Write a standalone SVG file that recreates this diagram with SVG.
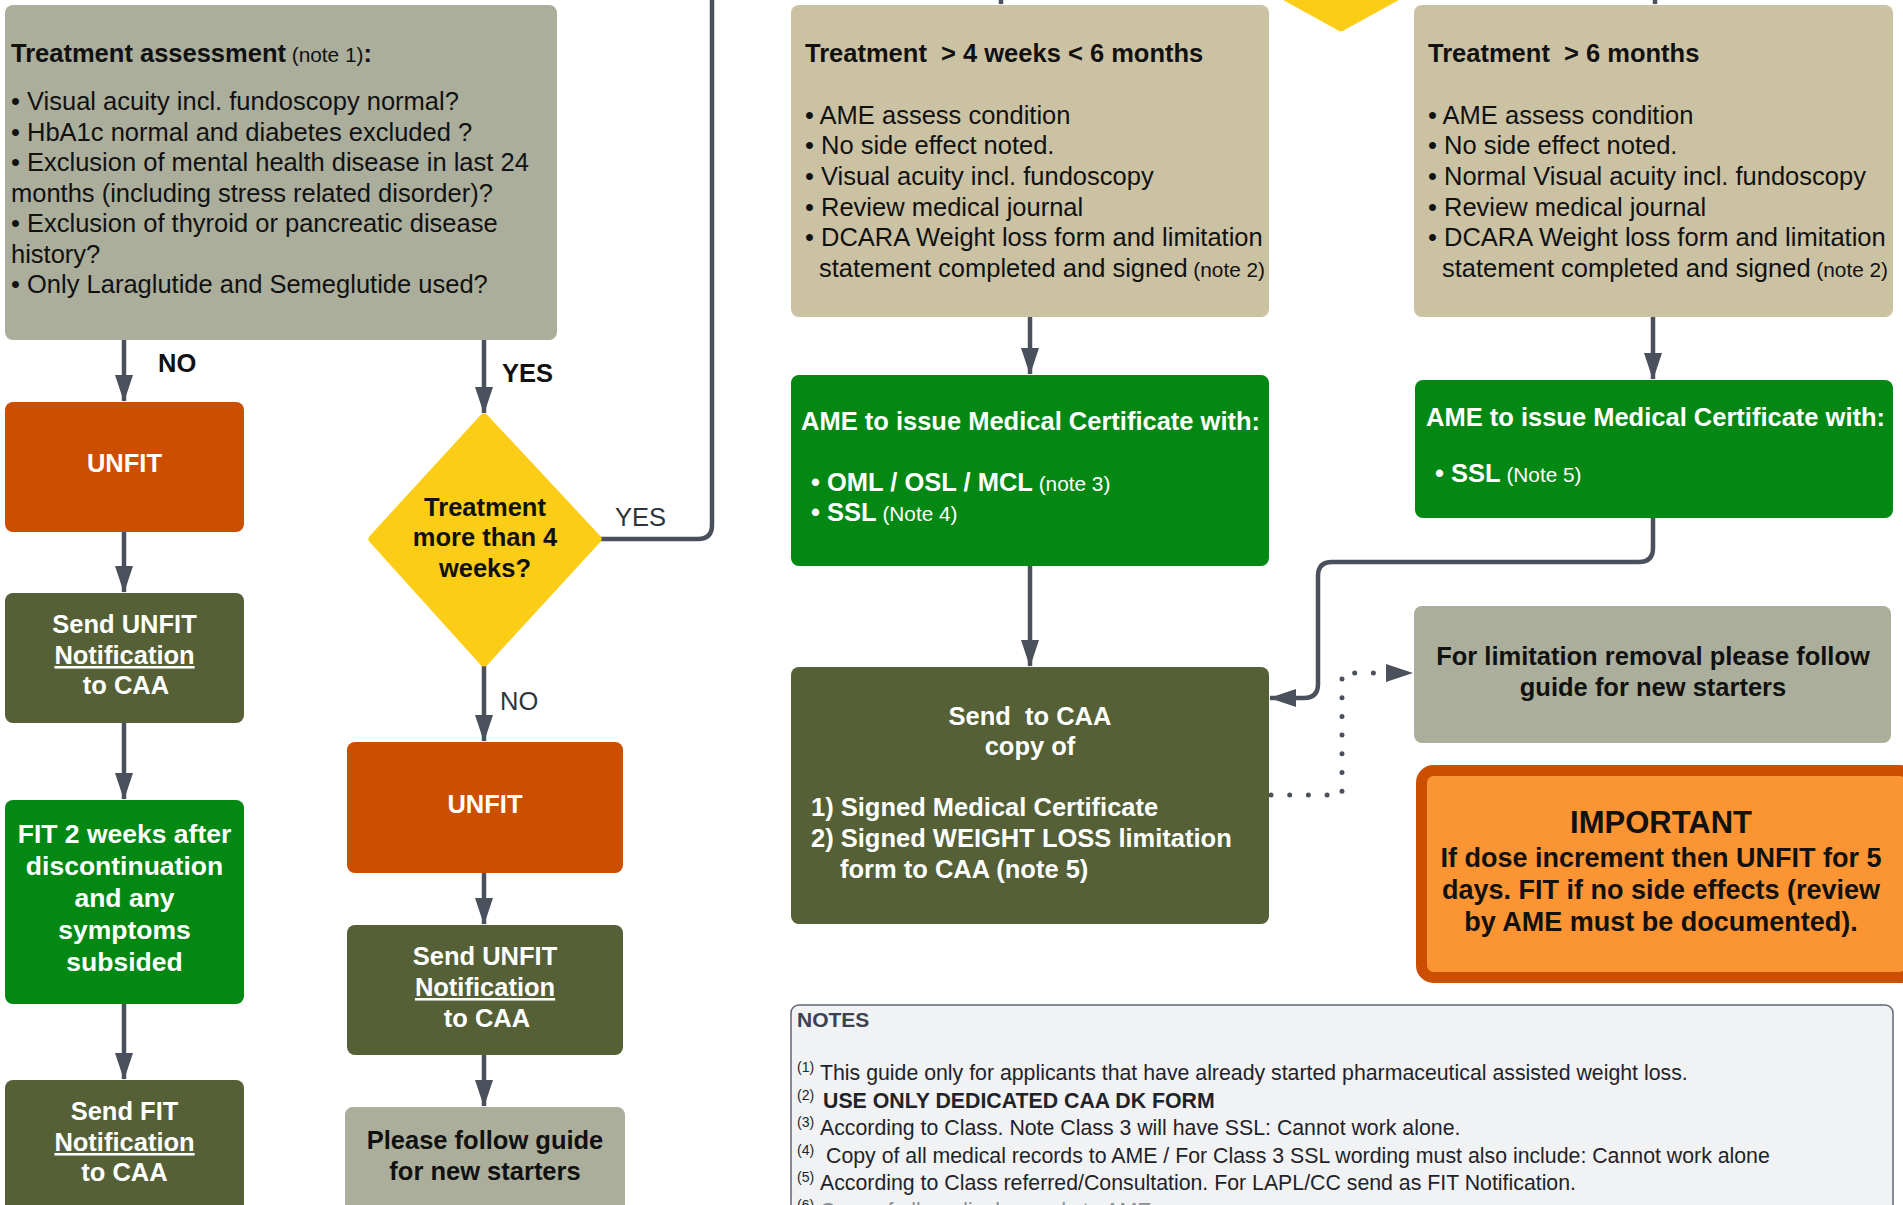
<svg xmlns="http://www.w3.org/2000/svg" width="1903" height="1205" viewBox="0 0 1903 1205">
<defs>
<marker id="ah" markerUnits="userSpaceOnUse" markerWidth="27" markerHeight="18" refX="26" refY="9" orient="auto"><path d="M0,0 L27,9 L0,18 z" fill="#4b515c"/></marker>
<style>
text{font-family:"Liberation Sans",Arial,sans-serif}
.b{font-weight:bold;font-size:25.5px}
.r{font-size:25.5px}
.s{font-size:20.8px;font-weight:normal}
.w{fill:#fff}
.k{fill:#111}
.c{text-anchor:middle}
.u{text-decoration:underline}
.gray{fill:#abae9b}
.tan{fill:#cbc2a3}
.olive{fill:#556036}
.green{fill:#038814}
.red{fill:#cc4e00}
.con{fill:none;stroke:#4b515c;stroke-width:4.5}
.arr{marker-end:url(#ah)}
.dot{fill:none;stroke:#4b515c;stroke-width:5;stroke-linecap:round;stroke-dasharray:0 18.7}
.n{font-size:21.3px;fill:#1f2329}
.sup{font-size:14px;fill:#1f2329}
.lbl{font-size:25.5px;fill:#111}
</style>
</defs>
<rect width="1903" height="1205" fill="#fff"/>

<g id="connectors">
<line class="con arr" x1="124" y1="340" x2="124" y2="401"/>
<line class="con arr" x1="484" y1="340" x2="484" y2="413"/>
<path class="con" d="M600,539 H698 Q712,539 712,525 V-10"/>
<line class="con arr" x1="124" y1="532" x2="124" y2="592"/>
<line class="con arr" x1="124" y1="723" x2="124" y2="799"/>
<line class="con arr" x1="124" y1="1004" x2="124" y2="1079"/>
<line class="con arr" x1="484" y1="665" x2="484" y2="741"/>
<line class="con arr" x1="484" y1="873" x2="484" y2="924"/>
<line class="con arr" x1="484" y1="1055" x2="484" y2="1106"/>
<line class="con arr" x1="1030" y1="317" x2="1030" y2="374"/>
<line class="con arr" x1="1030" y1="566" x2="1030" y2="666"/>
<line class="con arr" x1="1653" y1="317" x2="1653" y2="379"/>
<path class="con arr" d="M1653,518 V548 Q1653,562 1639,562 H1332 Q1318,562 1318,576 V684 Q1318,698 1304,698 H1270"/>
<path class="dot" d="M1271,795 H1342 V673 H1395"/>
<path d="M1386,664 L1413,673 L1386,682 z" fill="#4b515c"/>
<line class="con arr" x1="1001" y1="-40" x2="1001" y2="4"/>
<line class="con arr" x1="1655" y1="-40" x2="1655" y2="4"/>
</g>

<g id="edge-labels">
<text x="158" y="372" class="lbl" font-weight="bold">NO</text>
<text x="502" y="382" class="lbl" font-weight="bold">YES</text>
<text x="615" y="526" class="lbl" style="fill:#2f343c">YES</text>
<text x="500" y="710" class="lbl" style="fill:#2f343c">NO</text>
</g>

<g id="partial-decision">
<polygon points="1341,28 1180,-61 1341,-150 1502,-61" fill="#fbcd17" stroke="#fbcd17" stroke-width="7" stroke-linejoin="round"/>
</g>

<g id="treatment-assessment">
<rect x="5" y="5" width="552" height="335" rx="8" class="gray"/>
<text x="11" y="62" class="k"><tspan class="b">Treatment assessment</tspan><tspan class="s"> (note 1)</tspan><tspan class="b">:</tspan></text>
<text class="r k" x="11" y="110">• Visual acuity incl. fundoscopy normal?</text>
<text class="r k" x="11" y="140.5">• HbA1c normal and diabetes excluded ?</text>
<text class="r k" x="11" y="171">• Exclusion of mental health disease in last 24</text>
<text class="r k" x="11" y="201.5">months (including stress related disorder)?</text>
<text class="r k" x="11" y="232">• Exclusion of thyroid or pancreatic disease</text>
<text class="r k" x="11" y="262.5">history?</text>
<text class="r k" x="11" y="293">• Only Laraglutide and Semeglutide used?</text>
</g>

<g id="unfit-left">
<rect x="5" y="402" width="239" height="130" rx="8" class="red"/>
<text class="b w c" x="124.5" y="472">UNFIT</text>
</g>

<g id="send-unfit-left">
<rect x="5" y="593" width="239" height="130" rx="8" class="olive"/>
<text class="b w c" x="124.5" y="633">Send UNFIT</text>
<text class="b w c u" x="124.5" y="664">Notification</text>
<text class="b w c" x="126" y="694">to CAA</text>
</g>

<g id="fit-2-weeks">
<rect x="5" y="800" width="239" height="204" rx="8" class="green"/>
<text class="b w c" style="font-size:26.5px" x="124.5" y="843">FIT 2 weeks after</text>
<text class="b w c" style="font-size:26.5px" x="124.5" y="875">discontinuation</text>
<text class="b w c" style="font-size:26.5px" x="124.5" y="907">and any</text>
<text class="b w c" style="font-size:26.5px" x="124.5" y="939">symptoms</text>
<text class="b w c" style="font-size:26.5px" x="124.5" y="971">subsided</text>
</g>

<g id="send-fit">
<rect x="5" y="1080" width="239" height="140" rx="8" class="olive"/>
<text class="b w c" x="124.5" y="1120">Send FIT</text>
<text class="b w c u" x="124.5" y="1151">Notification</text>
<text class="b w c" x="124.5" y="1181">to CAA</text>
</g>

<g id="decision-4-weeks">
<polygon points="484,418 597,539 484,662 373,539" fill="#fbcd17" stroke="#fbcd17" stroke-width="9" stroke-linejoin="round"/>
<text class="b k c" x="485" y="516">Treatment</text>
<text class="b k c" x="485" y="546">more than 4</text>
<text class="b k c" x="485" y="577">weeks?</text>
</g>

<g id="unfit-middle">
<rect x="347" y="742" width="276" height="131" rx="8" class="red"/>
<text class="b w c" x="485" y="813">UNFIT</text>
</g>

<g id="send-unfit-middle">
<rect x="347" y="925" width="276" height="130" rx="8" class="olive"/>
<text class="b w c" x="485" y="965">Send UNFIT</text>
<text class="b w c u" x="485" y="996">Notification</text>
<text class="b w c" x="487" y="1027">to CAA</text>
</g>

<g id="follow-guide">
<rect x="345" y="1107" width="280" height="115" rx="8" class="gray"/>
<text class="b k c" x="485" y="1149">Please follow guide</text>
<text class="b k c" x="485" y="1180">for new starters</text>
</g>

<g id="treatment-4w-6m">
<rect x="791" y="5" width="478" height="312" rx="8" class="tan"/>
<text class="b k" x="805" y="62">Treatment&#160; &gt; 4 weeks &lt; 6 months</text>
<text class="r k" x="805" y="123.5">• AME assess condition</text>
<text class="r k" x="805" y="154.2">• No side effect noted.</text>
<text class="r k" x="805" y="184.9">• Visual acuity incl. fundoscopy</text>
<text class="r k" x="805" y="215.6">• Review medical journal</text>
<text class="r k" x="805" y="246.3">• DCARA Weight loss form and limitation</text>
<text class="r k" x="819" y="277">statement completed and signed<tspan class="s"> (note 2)</tspan></text>
</g>

<g id="ame-left">
<rect x="791" y="375" width="478" height="191" rx="8" class="green"/>
<text class="b w" x="801" y="430">AME to issue Medical Certificate with:</text>
<text class="b w" x="811" y="491">• OML / OSL / MCL<tspan class="s"> (note 3)</tspan></text>
<text class="b w" x="811" y="521">• SSL<tspan class="s"> (Note 4)</tspan></text>
</g>

<g id="send-to-caa">
<rect x="791" y="667" width="478" height="257" rx="8" class="olive"/>
<text class="b w c" x="1030" y="725">Send&#160; to CAA</text>
<text class="b w c" x="1030" y="755">copy of</text>
<text class="b w" x="811" y="816">1) Signed Medical Certificate</text>
<text class="b w" x="811" y="847">2) Signed WEIGHT LOSS limitation</text>
<text class="b w" x="840" y="878">form to CAA (note 5)</text>
</g>

<g id="treatment-6m">
<rect x="1414" y="5" width="479" height="312" rx="8" class="tan"/>
<text class="b k" x="1428" y="62">Treatment&#160; &gt; 6 months</text>
<text class="r k" x="1428" y="123.5">• AME assess condition</text>
<text class="r k" x="1428" y="154.2">• No side effect noted.</text>
<text class="r k" x="1428" y="184.9">• Normal Visual acuity incl. fundoscopy</text>
<text class="r k" x="1428" y="215.6">• Review medical journal</text>
<text class="r k" x="1428" y="246.3">• DCARA Weight loss form and limitation</text>
<text class="r k" x="1442" y="277">statement completed and signed<tspan class="s"> (note 2)</tspan></text>
</g>

<g id="ame-right">
<rect x="1415" y="380" width="478" height="138" rx="8" class="green"/>
<text class="b w" x="1426" y="426">AME to issue Medical Certificate with:</text>
<text class="b w" x="1435" y="482">• SSL<tspan class="s"> (Note 5)</tspan></text>
</g>

<g id="limitation-removal">
<rect x="1414" y="606" width="477" height="137" rx="8" class="gray"/>
<text class="b k c" x="1653" y="665">For limitation removal please follow</text>
<text class="b k c" x="1653" y="696">guide for new starters</text>
</g>

<g id="important">
<rect x="1421.5" y="770.5" width="490" height="207" rx="12" fill="#fb9433" stroke="#cc4e00" stroke-width="11"/>
<text class="b k c" style="font-size:31px" x="1661" y="833">IMPORTANT</text>
<text class="b k c" style="font-size:27px" x="1661" y="867">If dose increment then UNFIT for 5</text>
<text class="b k c" style="font-size:27px" x="1661" y="899">days. FIT if no side effects (review</text>
<text class="b k c" style="font-size:27px" x="1661" y="931">by AME must be documented).</text>
</g>

<g id="notes">
<rect x="791" y="1005" width="1102" height="240" rx="8" fill="#f1f2f4" stroke="#5f6673" stroke-width="1.5"/>
<text x="797" y="1027" style="font-size:21px;font-weight:bold;fill:#3c4250">NOTES</text>
<text class="sup" x="797" y="1072">(1)</text>
<text class="n" x="820" y="1080">This guide only for applicants that have already started pharmaceutical assisted weight loss.</text>
<text class="sup" x="797" y="1099.5">(2)</text>
<text class="n" x="823" y="1107.5" font-weight="bold">USE ONLY DEDICATED CAA DK FORM</text>
<text class="sup" x="797" y="1127">(3)</text>
<text class="n" x="820" y="1135">According to Class. Note Class 3 will have SSL: Cannot work alone.</text>
<text class="sup" x="797" y="1154.5">(4)</text>
<text class="n" x="826" y="1162.5">Copy of all medical records to AME / For Class 3 SSL wording must also include: Cannot work alone</text>
<text class="sup" x="797" y="1182">(5)</text>
<text class="n" x="820" y="1190">According to Class referred/Consultation. For LAPL/CC send as FIT Notification.</text>
<text class="sup" x="797" y="1209.5">(6)</text>
<text class="n" x="820" y="1217.5" style="fill:#8a8f99">Copy of all medical records to AME</text>
</g>
</svg>
